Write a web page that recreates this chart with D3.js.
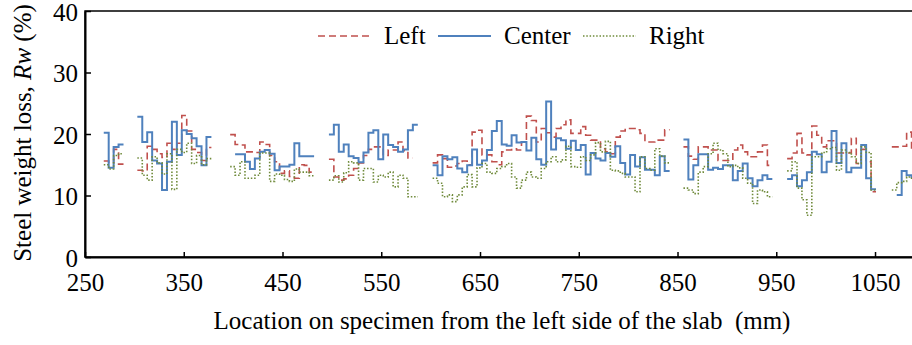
<!DOCTYPE html>
<html><head><meta charset="utf-8">
<script src="https://cdn.jsdelivr.net/npm/d3@7"></script>
<style>body{margin:0;background:#fff}svg{display:block}text{font-family:"Liberation Serif","Times New Roman",serif;fill:#000}</style>
</head><body><svg id="c" width="912" height="345"></svg>
<script>
// segment start positions (mm), each step 5 mm
const segStart = [269, 303, 397, 497, 602, 856, 961, 1067];
const stepMM = 5;
const leftSeg = [
 [15.6,15.3,17.5,15.1],
 [14.1,14.0,18.0,17.5,16.8,16.2,18.5,17.5,18.5,23.0,20.5,17.5,17.0,15.7,17.8],
 [19.9,18.3,18.2,17.1,17.1,17.0,18.7,18.3,16.5,15.5,13.6,14.0,13.1,12.8,15.0,14.9,13.8],
 [15.9,13.0,12.5,12.7,13.3,14.4,15.3,16.5,17.5,17.9,17.9,16.5,17.4,17.4,18.7,17.3,16.1,null],
 [15.3,16.6,16.0,14.6,14.8,15.2,15.6,15.0,20.3,20.6,16.6,16.6,15.5,15.0,17.1,17.4,17.6,17.4,18.7,22.9,22.2,18.7,20.9,20.2,19.5,20.9,21.5,22.3,20.1,20.1,21.2,19.8,19.0,19.0,17.6,17.1,16.8,19.5,20.5,20.9,20.9,20.7,20.1,18.7,18.7,19.0,19.0,20.7],
 [17.9,16.4,15.9,17.9,17.9,17.4,17.4,15.7,15.7,15.7,17.4,18.2,17.1,16.3,16.3,17.1,18.2,14.9],
 [16.0,16.9,20.1,16.9,16.6,21.3,19.8,17.9,18.9,18.9,16.9,16.9,16.9,19.3,15.2,17.5,15.5,10.6],
 [17.9,17.9,18.0,20.3,17.5,17.5,17.5]
];
const centerSeg = [
 [20.2,14.5,17.9,18.3],
 [22.8,18.7,20.3,15.7,15.2,10.9,15.5,22.0,16.6,20.6,20.0,19.3,18.0,14.9,19.5],
 [null,16.7,16.7,15.5,14.3,16.0,17.1,17.4,16.8,14.1,14.7,14.7,15.0,18.5,16.4,16.4,16.4],
 [19.9,21.5,17.1,18.3,16.4,16.1,15.4,17.0,20.2,20.6,15.9,19.9,18.2,17.9,17.1,17.5,20.6,21.5],
 [14.9,13.3,16.4,15.9,16.2,14.4,13.8,14.9,17.5,15.0,15.7,17.4,20.5,22.1,18.3,18.1,19.8,18.6,18.7,17.3,19.4,15.9,15.0,25.3,17.5,19.3,19.0,17.6,18.9,17.4,18.2,13.4,16.9,16.0,15.7,16.9,16.3,18.0,15.3,13.4,16.6,14.7,16.2,14.2,14.2,13.3,16.4,14.0],
 [19.1,12.6,14.9,16.7,16.7,14.2,14.5,14.3,14.9,14.9,12.5,14.0,15.2,12.8,11.5,12.5,13.3,12.7],
 [12.7,13.3,11.5,12.5,13.8,17.1,16.7,13.8,15.5,20.5,15.3,18.5,13.8,14.5,14.5,18.2,12.8,11.0],
 [null,10.1,14.0,13.3,13.0,13.0,13.0]
];
const rightSeg = [
 [15.0,14.3,16.5,16.8],
 [16.1,13.3,12.5,16.3,15.3,13.5,16.8,11.0,17.5,17.0,18.5,15.2,16.5,15.0,16.0],
 [14.7,13.3,15.5,12.8,12.8,13.3,16.9,16.9,12.3,13.5,13.3,12.6,12.3,14.3,13.8,13.8,13.2],
 [12.5,13.2,12.2,13.7,15.5,15.3,12.5,14.4,14.4,12.2,13.3,13.0,13.8,11.4,13.3,12.8,9.8,9.8],
 [12.8,12.0,9.8,10.1,9.0,10.1,11.4,13.4,11.4,14.5,15.2,13.8,13.6,14.4,14.7,15.2,13.0,11.2,12.5,13.8,13.0,12.8,14.4,15.5,16.3,15.5,15.8,18.0,14.7,14.6,16.3,15.7,16.6,18.6,17.1,18.8,14.1,14.0,13.6,13.0,13.0,10.6,16.3,14.4,14.1,17.6,16.4,15.3],
 [11.2,10.9,10.3,13.8,14.7,16.8,18.5,17.4,16.8,14.7,14.9,14.5,12.8,12.0,8.7,10.9,10.6,9.8],
 [14.0,15.5,11.2,9.3,6.8,16.3,16.3,17.0,17.6,17.8,14.1,17.4,17.0,16.3,15.2,17.9,17.0,10.9],
 [10.9,12.1,12.3,13.0,12.5,12.5,12.5]
];
const seriesNames = ["Left","Center","Right"];
const xTicks = [250,350,450,550,650,750,850,950,1050];
const yTicks = [0,10,20,30,40];

const svg = d3.select("#c");
const x = d3.scaleLinear().domain([250,1100]).range([85,924.4]);
const y = d3.scaleLinear().domain([0,40]).range([257,11]);
const styles = [
 {color:"#C0504D", dash:"7,4", w:1.6},
 {color:"#4F81BD", dash:null, w:2},
 {color:"#6F8A3A", dash:"1.5,1.8", w:1.6}
];
const FS = 25;

// frame
svg.append("rect").attr("x",x(250)).attr("y",y(40)).attr("width",x(1100)-x(250)).attr("height",y(0)-y(40))
  .attr("fill","none").attr("stroke","#000").attr("stroke-width",1.5);

// axes
const xAxis = d3.axisBottom(x).tickValues(xTicks).tickSizeInner(-5).tickSizeOuter(0).tickPadding(16).tickFormat(d3.format("d"));
const gx = svg.append("g").attr("transform",`translate(0,${y(0)})`).call(xAxis);
gx.select(".domain").attr("stroke-width",2);
gx.selectAll(".tick line").attr("stroke-width",1.5);
gx.selectAll("text").attr("font-size",FS).attr("font-family","Liberation Serif");
const yAxis = d3.axisLeft(y).tickValues(yTicks).tickSizeInner(-6).tickSizeOuter(0).tickPadding(7);
const gy = svg.append("g").attr("transform",`translate(${x(250)},0)`).call(yAxis);
gy.select(".domain").attr("stroke-width",2);
gy.selectAll(".tick line").attr("stroke-width",1.5);
gy.selectAll("text").attr("font-size",FS).attr("font-family","Liberation Serif").attr("dy","0.36em");

// data lines
const all = [leftSeg, centerSeg, rightSeg];
const line = d3.line().x(d=>x(d[0])).y(d=>y(d[1])).curve(d3.curveStepAfter);
const gData = svg.append("g");
all.forEach((segs,si)=>{
  segs.forEach((vals,k)=>{
    const runs=[]; let cur=[];
    vals.forEach((v,i)=>{
      if(v==null){ if(cur.length){runs.push(cur);cur=[];} }
      else cur.push(i);
    });
    if(cur.length) runs.push(cur);
    runs.forEach(r=>{
      const p = r.map(i=>[segStart[k]+i*stepMM, vals[i]]);
      p.push([segStart[k]+(r[r.length-1]+1)*stepMM, vals[r[r.length-1]]]);
      gData.append("path").datum(p).attr("d",line).attr("fill","none")
        .attr("stroke",styles[si].color).attr("stroke-width",styles[si].w)
        .attr("stroke-dasharray",styles[si].dash);
    });
  });
});

// legend
const legX = [318,438,583];
const lg = svg.append("g");
seriesNames.forEach((n,i)=>{
  lg.append("line").attr("x1",legX[i]).attr("x2",legX[i]+53).attr("y1",36).attr("y2",36)
    .attr("stroke",styles[i].color).attr("stroke-width",styles[i].w).attr("stroke-dasharray",styles[i].dash);
  lg.append("text").attr("x",legX[i]+66).attr("y",44).attr("font-size",FS).text(n);
});

// axis titles
svg.append("text").attr("x",502).attr("y",329).attr("text-anchor","middle").attr("font-size",FS)
  .text("Location on specimen from the left side of the slab\u00a0\u00a0(mm)");
const yt = svg.append("text").attr("transform","translate(31,133) rotate(-90)").attr("text-anchor","middle").attr("font-size",FS);
yt.append("tspan").text("Steel weight loss, ");
yt.append("tspan").attr("font-style","italic").text("Rw");
yt.append("tspan").text(" (%)");
</script></body></html>
